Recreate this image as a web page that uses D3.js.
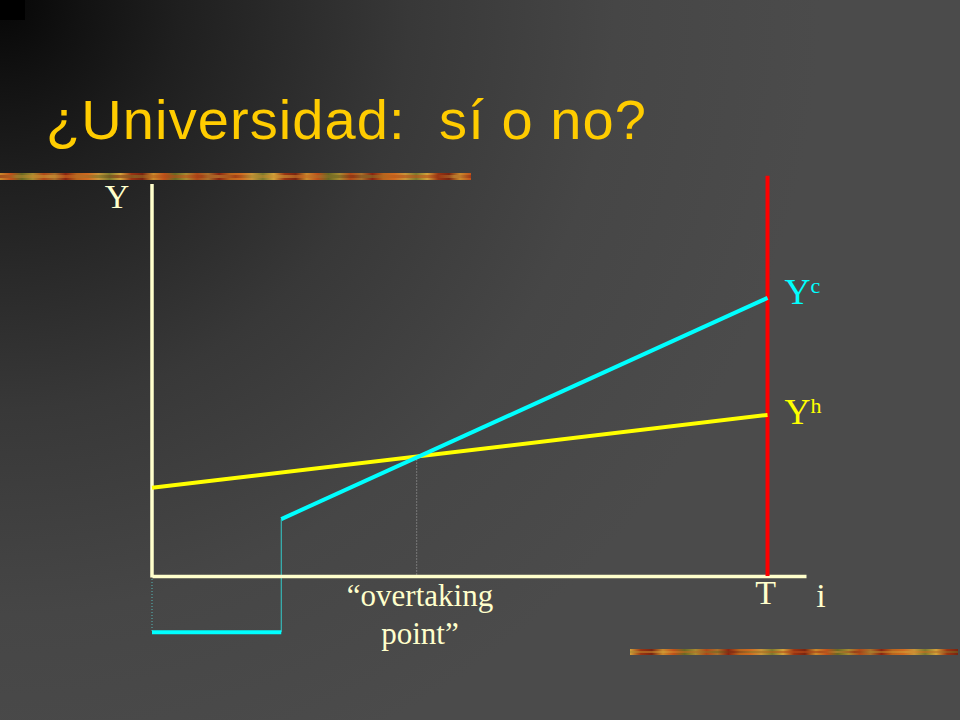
<!DOCTYPE html>
<html>
<head>
<meta charset="utf-8">
<script src="https://cdn.jsdelivr.net/npm/d3@7"></script>
<style>
  html, body { margin: 0; padding: 0; background: #3a3a3a; }
  svg { display: block; }
</style>
</head>
<body>
<script>
// ---------- data ----------
const titleText = "¿Universidad:  sí o no?";
const xDomain = [0, 42.5];          // time axis (years of life)
const yDomain = [0, 100];           // income axis
const T = 40;                       // end of working life
const schoolYears = 8.4;            // years at university
const overtakingT = 17.2;           // overtaking point
const yhTimes = [0, T];             // high-school income path
const yhValues = [22.6, 41.3];
const ycTimes = [schoolYears, T];   // college income path
const ycValues = [14.6, 71.3];
const costTimes = [0, schoolYears]; // cost while studying
const costValues = [-14.4, -14.4];
const redTop = 102.6;
const yLabels = { axisY: "Y", yc: "Y", ycSup: "c", yh: "Y", yhSup: "h", T: "T", i: "i" };
const overtakeLabel = ["\u201Covertaking", "point\u201D"];
const leafColors = ["#c98a2c", "#a8702a", "#7e7a2c", "#c0501a", "#8a2410", "#d3a23a", "#6a6a22", "#b8641c", "#9a3412", "#a88a30", "#d06a20", "#7a2410", "#b04818", "#c89438"];

// ---------- setup ----------
const W = 960, H = 720;
const svg = d3.select("body").append("svg").attr("width", W).attr("height", H);
const defs = svg.append("defs");
const grad = defs.append("radialGradient").attr("id", "bg")
  .attr("gradientUnits", "userSpaceOnUse").attr("cx", 0).attr("cy", 0).attr("r", 820);
[[0, "#060606"], [0.1, "#121212"], [0.22, "#1f1f1f"], [0.5, "#383838"], [0.75, "#464646"], [1, "#4b4b4b"]]
  .forEach(([o, c]) => grad.append("stop").attr("offset", o).attr("stop-color", c));
svg.append("rect").attr("width", W).attr("height", H).attr("fill", "url(#bg)");
svg.append("rect").attr("width", 25).attr("height", 20).attr("fill", "#000");

// decorative leaf bars (smooth colour gradients)
function leafBar(id, x0, x1, y, h, shift) {
  const lg = defs.append("linearGradient").attr("id", id)
    .attr("gradientUnits", "userSpaceOnUse").attr("x1", x0).attr("x2", x1).attr("y1", 0).attr("y2", 0);
  const n = Math.round((x1 - x0) / 11);
  d3.range(n + 1).forEach(k => lg.append("stop").attr("offset", k / n)
    .attr("stop-color", leafColors[(k * 3 + shift) % leafColors.length]));
  svg.append("rect").attr("x", x0).attr("y", y).attr("width", x1 - x0).attr("height", h).attr("fill", `url(#${id})`);
  const lg2 = defs.append("linearGradient").attr("id", id + "b")
    .attr("gradientUnits", "userSpaceOnUse").attr("x1", x0).attr("x2", x1).attr("y1", 0).attr("y2", 0);
  const m = Math.round((x1 - x0) / 17);
  d3.range(m + 1).forEach(k => lg2.append("stop").attr("offset", k / m)
    .attr("stop-color", leafColors[(k * 5 + shift + 4) % leafColors.length]));
  svg.append("rect").attr("x", x0).attr("y", y + 2).attr("width", x1 - x0).attr("height", h - 4)
    .attr("fill", `url(#${id}b)`).attr("opacity", 0.55);
}
leafBar("leafTop", 0, 471, 173, 7, 0);
leafBar("leafBot", 630, 958, 649, 6, 5);

// title
svg.append("text").attr("x", 46).attr("y", 139)
  .attr("font-family", "Liberation Sans, Arial, sans-serif").attr("font-size", 56)
  .attr("fill", "#FFCC00").attr("xml:space", "preserve").style("white-space", "pre")
  .attr("textLength", 600).attr("lengthAdjust", "spacing")
  .text(titleText);

// scales
const x = d3.scaleLinear().domain(xDomain).range([152, 806]);
const y = d3.scaleLinear().domain(yDomain).range([576, 186]);

const cream = "#FFFFCC";
const serif = "Liberation Serif, Times New Roman, serif";

// guide lines
svg.append("line").attr("x1", x(0)).attr("x2", x(0)).attr("y1", y(0)).attr("y2", y(costValues[0]))
  .attr("stroke", "#55b8b8").attr("stroke-width", 1).attr("stroke-dasharray", "1,2");
svg.append("line").attr("x1", x(overtakingT)).attr("x2", x(overtakingT))
  .attr("y1", y(yhValues[0] + (yhValues[1] - yhValues[0]) * overtakingT / T)).attr("y2", y(0))
  .attr("stroke", "#a8a8a8").attr("stroke-width", 1).attr("stroke-dasharray", "1,2");
svg.append("line").attr("x1", x(schoolYears)).attr("x2", x(schoolYears))
  .attr("y1", y(costValues[0])).attr("y2", y(ycValues[0]))
  .attr("stroke", "#33cccc").attr("stroke-width", 1);

// axes
svg.append("g").attr("transform", `translate(0,${y(0)})`)
  .call(d3.axisBottom(x).tickValues([]).tickSizeOuter(0));
const yAxis = svg.append("g").attr("transform", `translate(${x(0)},0)`)
  .call(d3.axisLeft(y).tickValues([]).tickSizeOuter(0));
yAxis.select(".domain").attr("d", `M0,${y(0) + 1.5}V${y(yDomain[1]) - 2}`);
svg.selectAll(".domain").attr("stroke", cream).attr("stroke-width", 3.5);

// red T line
svg.append("line").attr("x1", x(T)).attr("x2", x(T)).attr("y1", y(redTop)).attr("y2", y(0))
  .attr("stroke", "#FF0000").attr("stroke-width", 4);

// income paths
const line = d3.line().x(d => x(d[0])).y(d => y(d[1]));
svg.append("path").datum(d3.zip(costTimes, costValues)).attr("d", line)
  .attr("stroke", "#00FFFF").attr("stroke-width", 4).attr("fill", "none");
svg.append("path").datum(d3.zip(yhTimes, yhValues)).attr("d", line)
  .attr("stroke", "#FFFF00").attr("stroke-width", 4).attr("fill", "none");
svg.append("path").datum(d3.zip(ycTimes, ycValues)).attr("d", line)
  .attr("stroke", "#00FFFF").attr("stroke-width", 4).attr("fill", "none");

// labels
svg.append("text").attr("x", 117).attr("y", 208).attr("text-anchor", "middle")
  .attr("font-family", serif).attr("font-size", 34).attr("fill", cream).text(yLabels.axisY);

function supLabel(xp, yp, main, sup, color) {
  const t = svg.append("text").attr("x", xp).attr("y", yp)
    .attr("font-family", serif).attr("font-size", 36).attr("fill", color);
  t.append("tspan").text(main);
  t.append("tspan").attr("dy", -11).attr("font-size", 22).text(sup);
}
supLabel(x(T) + 17, y(ycValues[1]) + 6, yLabels.yc, yLabels.ycSup, "#00FFFF");
supLabel(x(T) + 17, y(yhValues[1]) + 9, yLabels.yh, yLabels.yhSup, "#FFFF00");

svg.append("text").attr("x", x(T) - 2).attr("y", 604).attr("text-anchor", "middle")
  .attr("font-family", serif).attr("font-size", 34).attr("fill", cream).text(yLabels.T);
svg.append("text").attr("x", 821).attr("y", 607).attr("text-anchor", "middle")
  .attr("font-family", serif).attr("font-size", 34).attr("fill", cream).text(yLabels.i);

svg.append("text").attr("x", 420).attr("y", 606).attr("text-anchor", "middle")
  .attr("font-family", serif).attr("font-size", 31).attr("fill", cream).text(overtakeLabel[0]);
svg.append("text").attr("x", 420).attr("y", 644).attr("text-anchor", "middle")
  .attr("font-family", serif).attr("font-size", 31).attr("fill", cream).text(overtakeLabel[1]);
</script>
</body>
</html>
